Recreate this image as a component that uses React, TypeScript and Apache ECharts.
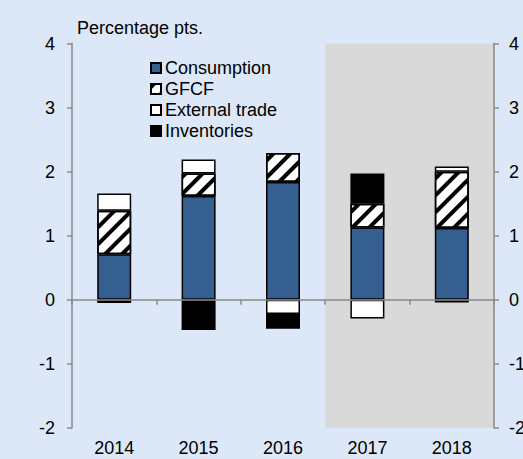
import React, { useEffect, useRef } from "react";
import * as echarts from "echarts";

const years = ["2014", "2015", "2016", "2017", "2018"];
const consumption = [0.71, 1.62, 1.84, 1.13, 1.12];
const gfcf = [0.68, 0.35, 0.45, 0.37, 0.88];
const externalTrade = [0.27, 0.22, -0.22, -0.29, 0.08];
const inventories = [-0.05, -0.47, -0.23, 0.47, -0.04];
const yTicks = { min: -2, max: 4, interval: 1 };
const forecastStart = 3; // index of 2017
const forecastEnd = 5;

const FONT = "'Liberation Sans', Arial, sans-serif";
const AXIS_GRAY = "#888888";

export default function App() {
  const ref = useRef<HTMLDivElement>(null);
  useEffect(() => {
    if (!ref.current) return;
    const chart = echarts.init(ref.current, null, { renderer: "svg" });
    const barBase = {
      type: "bar",
      stack: "total",
      xAxisIndex: 0,
      yAxisIndex: 0,
      barWidth: 34,
      z: 3,
    };
    chart.setOption({
      animation: false,
      backgroundColor: "#dce8f7",
      textStyle: { fontFamily: FONT },
      title: {
        text: "Percentage pts.",
        left: 77,
        top: 19,
        padding: 0,
        textStyle: { fontSize: 18, fontWeight: "normal", color: "#000", fontFamily: FONT },
      },
      legend: {
        orient: "vertical",
        left: 150,
        top: 59,
        padding: 0,
        itemGap: 3,
        itemWidth: 10,
        itemHeight: 10,
        icon: "rect",
        data: ["Consumption", "GFCF", "External trade", "Inventories"],
        textStyle: { fontSize: 18, lineHeight: 18, color: "#000", fontFamily: FONT, padding: [0, 0, 0, -1] },
      },
      grid: { left: 72, right: 29, top: 43.5, bottom: 31, containLabel: false, outerBoundsMode: "none" },
      xAxis: [
        {
          type: "category",
          data: years,
          position: "bottom",
          axisLine: { show: false },
          axisTick: { show: false },
          axisLabel: { margin: 11, fontSize: 18, lineHeight: 18, color: "#000", fontFamily: FONT },
          z: 4,
        },
        {
          type: "category",
          data: years,
          position: "top",
          axisLine: { onZero: true, lineStyle: { color: AXIS_GRAY, width: 1.5 } },
          axisTick: { show: true, inside: true, length: 5, lineStyle: { color: AXIS_GRAY, width: 1.5 } },
          axisLabel: { show: false },
          z: 4,
        },
        {
          type: "value",
          min: 0,
          max: 5,
          show: false,
        },
      ],
      yAxis: [
        {
          type: "value",
          position: "left",
          min: yTicks.min,
          max: yTicks.max,
          interval: yTicks.interval,
          splitLine: { show: false },
          axisLine: { show: true, lineStyle: { color: AXIS_GRAY, width: 1.5 } },
          axisTick: { show: true, length: 5, lineStyle: { color: AXIS_GRAY, width: 1.5 } },
          axisLabel: { margin: 17, fontSize: 18, color: "#000", fontFamily: FONT },
          z: 4,
        },
        {
          type: "value",
          position: "right",
          min: yTicks.min,
          max: yTicks.max,
          interval: yTicks.interval,
          splitLine: { show: false },
          axisLine: { show: true, lineStyle: { color: AXIS_GRAY, width: 1.5 } },
          axisTick: { show: true, length: 5, lineStyle: { color: AXIS_GRAY, width: 1.5 } },
          axisLabel: { margin: 15, fontSize: 18, color: "#000", fontFamily: FONT },
          z: 4,
        },
      ],
      series: [
        {
          type: "line",
          xAxisIndex: 2,
          yAxisIndex: 0,
          data: [[forecastStart, 0]],
          showSymbol: false,
          symbolSize: 0,
          lineStyle: { opacity: 0 },
          silent: true,
          z: 0,
          markArea: {
            silent: true,
            itemStyle: { color: "#d9d9d9" },
            data: [[{ xAxis: forecastStart, yAxis: yTicks.min - 0.04 }, { xAxis: forecastEnd, yAxis: yTicks.max }]],
          },
        },
        {
          ...barBase,
          name: "Consumption",
          data: consumption,
          itemStyle: { color: "#355f91", borderColor: "#000", borderWidth: 1.5 },
        },
        {
          ...barBase,
          name: "GFCF",
          data: gfcf,
          itemStyle: {
            color: "#ffffff",
            borderColor: "#000",
            borderWidth: 1.5,
            decal: {
              symbol: "rect",
              symbolSize: 1,
              color: "#000",
              backgroundColor: "#fff",
              dashArrayX: [1, 0],
              dashArrayY: [4, 8],
              rotation: -Math.PI / 4,
            },
          },
        },
        {
          ...barBase,
          name: "External trade",
          data: externalTrade,
          itemStyle: { color: "#ffffff", borderColor: "#000", borderWidth: 1.5 },
        },
        {
          ...barBase,
          name: "Inventories",
          data: inventories,
          itemStyle: { color: "#000000", borderColor: "#000", borderWidth: 1.5 },
        },
      ],
    });
    return () => chart.dispose();
  }, []);
  return <div ref={ref} style={{ width: 523, height: 459, position: "fixed", left: 0, top: 0 }} />;
}
